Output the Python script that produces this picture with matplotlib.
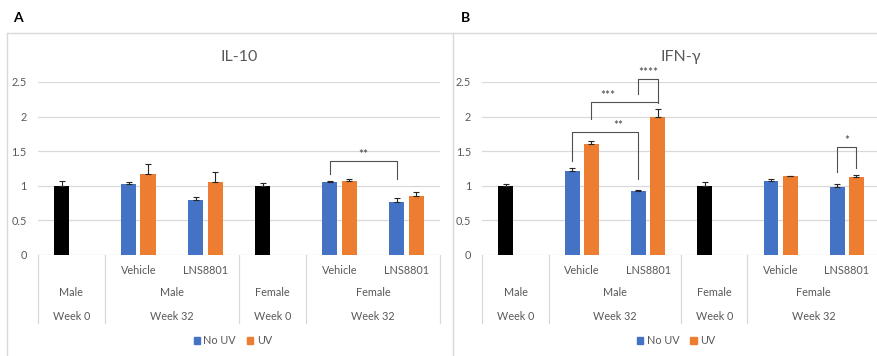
import numpy as np
import matplotlib
matplotlib.use("Agg")
import matplotlib.pyplot as plt
from matplotlib.lines import Line2D
from matplotlib.patches import Patch

plt.rcParams['font.family'] = ['Lato', 'DejaVu Sans']

# --- data ---
treatments = ["", "Vehicle", "LNS8801", "", "Vehicle", "LNS8801"]
sex_groups = [("Male", 0, 1), ("Male", 1, 3), ("Female", 3, 4), ("Female", 4, 6)]
week_groups = [("Week 0", 0, 1), ("Week 32", 1, 3), ("Week 0", 3, 4), ("Week 32", 4, 6)]
baseline = [True, False, False, True, False, False]

il10_no_uv = [1.00, 1.02, 0.79, 1.00, 1.05, 0.77]
il10_no_uv_err = [0.07, 0.03, 0.04, 0.04, 0.01, 0.05]
il10_uv = [np.nan, 1.17, 1.05, np.nan, 1.06, 0.855]
il10_uv_err = [0, 0.15, 0.15, 0, 0.03, 0.055]

ifng_no_uv = [1.00, 1.21, 0.92, 1.00, 1.06, 0.98]
ifng_no_uv_err = [0.03, 0.04, 0.01, 0.05, 0.04, 0.04]
ifng_uv = [np.nan, 1.60, 2.00, np.nan, 1.14, 1.12]
ifng_uv_err = [0, 0.04, 0.11, 0, 0.005, 0.04]

# brackets: (left cat, left series, right cat, right series, top, left foot, right foot, label, label shift)
il10_sig = [(4, 0, 5, 0, 1.35, 1.17, 1.10, "**", 0.0)]
ifng_sig = [
    (1, 0, 2, 0, 1.77, 1.35, 1.09, "**", 0.19),
    (1, 1, 2, 1, 2.21, 1.96, 2.19, "***", -0.25),
    (2, 0, 2, 1, 2.55, 2.32, 2.21, "****", 0.0),
    (5, 0, 5, 1, 1.56, 1.19, 1.26, "*", 0.0),
]

BLUE = "#4472C4"
ORANGE = "#ED7D31"
GRID = "#D9D9D9"
TXT = "#595959"
W, H = 878, 356
bw = 0.225
off = 0.145

fig = plt.figure(figsize=(W / 100, H / 100), dpi=100)

y0px, ytop = 254.7, 82.0


def yfrac(p):
    return (y0px - p) / (y0px - ytop)


def panel(left, right, title, no_uv, no_uv_err, uv, uv_err, sig, legx):
    ax = fig.add_axes([left / W, 1 - y0px / H, (right - left) / W, (y0px - ytop) / H])
    x = np.arange(6) + 0.5
    cols = ["black" if b else BLUE for b in baseline]
    ax.bar(x - off, no_uv, bw, color=cols, zorder=3)
    ax.errorbar(x - off, no_uv, yerr=[np.zeros(6), no_uv_err], fmt="none",
                ecolor="#262626", elinewidth=0.8, capsize=2, capthick=0.8, zorder=4)
    uv = np.array(uv)
    m = ~np.isnan(uv)
    ax.bar(x[m] + off, uv[m], bw, color=ORANGE, zorder=3)
    ax.errorbar(x[m] + off, uv[m], yerr=[np.zeros(m.sum()), np.array(uv_err)[m]], fmt="none",
                ecolor="#262626", elinewidth=0.8, capsize=2, capthick=0.8, zorder=4)

    ax.set_xlim(0, 6)
    ax.set_ylim(0, 2.5)
    ax.set_yticks([0, 0.5, 1, 1.5, 2, 2.5])
    ax.set_yticklabels(["0", "0.5", "1", "1.5", "2", "2.5"])
    ax.tick_params(axis="y", length=0, pad=8, labelsize=7.8, labelcolor=TXT)
    ax.set_xticks([])
    for s in ax.spines.values():
        s.set_visible(False)
    ax.grid(axis="y", color=GRID, linewidth=0.9, zorder=0)

    tr = ax.get_xaxis_transform()
    for xv in [0, 1, 3, 4, 6]:
        ax.plot([xv, xv], [0, yfrac(322.7)], color=GRID, lw=0.9, transform=tr, clip_on=False)
    for i, t in enumerate(treatments):
        if t:
            ax.text(x[i], yfrac(270.5), t, transform=tr, ha="center", va="center", fontsize=7.8, color=TXT)
    for lab, a, b in sex_groups:
        ax.text((a + b) / 2, yfrac(293), lab, transform=tr, ha="center", va="center", fontsize=7.8, color=TXT)
    for lab, a, b in week_groups:
        ax.text((a + b) / 2, yfrac(316), lab, transform=tr, ha="center", va="center", fontsize=7.8, color=TXT)

    for c1, s1, c2, s2, top, f1, f2, lab, sh in sig:
        xl = c1 + 0.5 + (off if s1 else -off)
        xr = c2 + 0.5 + (off if s2 else -off)
        ax.plot([xl, xl, xr, xr], [f1, top, top, f2], color="#505050", lw=0.8, clip_on=False, zorder=5)
        ax.text((xl + xr) / 2 + sh, top + 0.015, lab, ha="center", va="bottom", fontsize=8.5,
                color="#404040", clip_on=False)

    ax.text(0.5, yfrac(57), title, transform=ax.transAxes, ha="center", va="center",
            fontsize=11.5, color=TXT)
    handles = [Patch(color=BLUE, label="No UV"), Patch(color=ORANGE, label="UV")]
    ax.legend(handles=handles, loc="center", bbox_to_anchor=(legx, yfrac(341)), ncol=2,
              frameon=False, fontsize=7.8, handlelength=0.6, handleheight=0.6,
              handletextpad=0.3, columnspacing=1.0, labelcolor=TXT)
    return ax


panel(37.7, 440, "IL-10", il10_no_uv, il10_no_uv_err, il10_uv, il10_uv_err, il10_sig, 0.485)
panel(482.3, 880, "IFN-γ", ifng_no_uv, ifng_no_uv_err, ifng_uv, ifng_uv_err, ifng_sig, 0.487)

# panel frames
for xs, ys in [([7.3, 7.3], [33, 356]), ([452.7, 452.7], [33, 356]), ([7.3, 878], [33, 33])]:
    fig.add_artist(Line2D([v / W for v in xs], [1 - v / H for v in ys], color=GRID, lw=1.0))

fig.text(18 / W, 1 - 18 / H, "A", fontsize=10, fontweight="bold", ha="center", va="center")
fig.text(466 / W, 1 - 18 / H, "B", fontsize=10, fontweight="bold", ha="center", va="center")

fig.savefig("out.png", dpi=100)
